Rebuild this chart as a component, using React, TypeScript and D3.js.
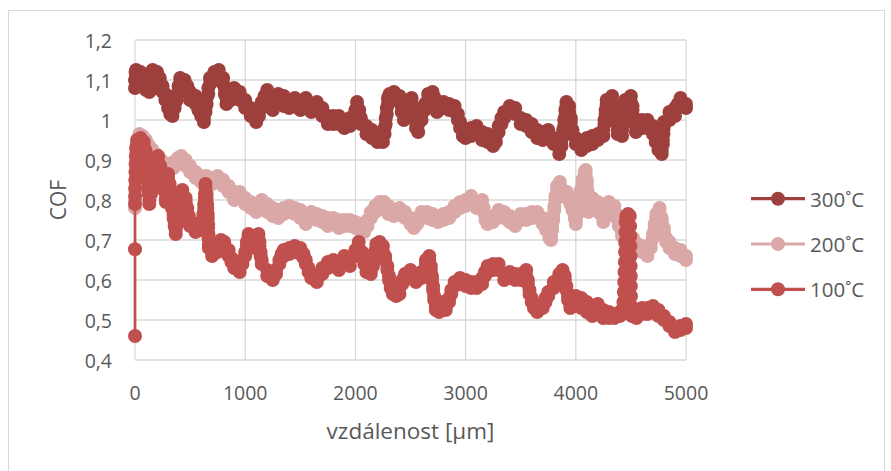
import React from "react";
import * as d3 from "d3";

// Coefficient of friction vs. sliding distance for three test temperatures.
// The signal is noisy, so each reading gives the lower and upper COF seen
// at that distance: [distance in µm, COF low, COF high].
type Reading = [number, number, number];

const cof300C: Reading[] = [
  [0, 1.08, 1.1], [5, 1.1, 1.12], [10, 1.11, 1.125], [25, 1.1, 1.115], [50, 1.105, 1.12], [75, 1.09, 1.11], [100, 1.075, 1.095],
  [130, 1.07, 1.09], [145, 1.09, 1.105], [160, 1.11, 1.125], [200, 1.1, 1.12], [225, 1.09, 1.105], [250, 1.07, 1.085], [275, 1.05, 1.065],
  [300, 1.03, 1.045], [320, 1.015, 1.03], [340, 1.01, 1.02], [360, 1.03, 1.04], [380, 1.05, 1.065], [395, 1.07, 1.085], [410, 1.09, 1.105],
  [450, 1.085, 1.1], [475, 1.07, 1.085], [500, 1.05, 1.07], [550, 1.04, 1.06], [575, 1.025, 1.04], [600, 1.01, 1.025], [625, 0.995, 1.005],
  [640, 1.02, 1.03], [650, 1.04, 1.055], [665, 1.065, 1.08], [680, 1.09, 1.105], [720, 1.1, 1.12], [760, 1.11, 1.125], [800, 1.09, 1.105],
  [815, 1.065, 1.08], [830, 1.04, 1.055], [870, 1.05, 1.07], [900, 1.065, 1.08], [950, 1.05, 1.07], [1000, 1.03, 1.05], [1050, 1.01, 1.03],
  [1100, 0.995, 1.01], [1125, 1.01, 1.025], [1150, 1.03, 1.045], [1175, 1.045, 1.06], [1200, 1.06, 1.075], [1225, 1.045, 1.06], [1250, 1.025, 1.045],
  [1275, 1.04, 1.055], [1300, 1.05, 1.065], [1350, 1.035, 1.06], [1400, 1.03, 1.05], [1450, 1.035, 1.055], [1500, 1.025, 1.045], [1550, 1.035, 1.055],
  [1600, 1.02, 1.04], [1650, 1.03, 1.045], [1700, 1.01, 1.03], [1750, 0.99, 1.01], [1800, 0.99, 1.01], [1850, 0.99, 1.01], [1900, 0.98, 1.0],
  [1950, 0.985, 1.005], [2000, 1.01, 1.025], [2015, 1.03, 1.045], [2035, 1.01, 1.025], [2050, 0.99, 1.005], [2100, 0.965, 0.985], [2150, 0.955, 0.975],
  [2200, 0.945, 0.965], [2250, 0.945, 0.965], [2265, 0.965, 0.98], [2275, 0.99, 1.005], [2285, 1.015, 1.03], [2295, 1.04, 1.055], [2310, 1.05, 1.065],
  [2350, 1.055, 1.07], [2400, 1.045, 1.06], [2420, 1.02, 1.035], [2440, 1.0, 1.015], [2470, 1.02, 1.035], [2510, 1.04, 1.055], [2530, 1.015, 1.03],
  [2550, 0.98, 0.995], [2570, 0.97, 0.99], [2600, 1.0, 1.015], [2630, 1.025, 1.04], [2660, 1.05, 1.065], [2700, 1.055, 1.07], [2720, 1.04, 1.055],
  [2740, 1.02, 1.035], [2800, 1.03, 1.045], [2850, 1.025, 1.04], [2900, 1.02, 1.035], [2930, 1.0, 1.015], [2950, 0.98, 0.995], [2975, 0.96, 0.975],
  [3000, 0.955, 0.97], [3050, 0.96, 0.98], [3100, 0.965, 0.985], [3150, 0.95, 0.97], [3200, 0.945, 0.965], [3250, 0.935, 0.95], [3275, 0.945, 0.96],
  [3300, 0.97, 0.985], [3325, 0.99, 1.005], [3350, 1.005, 1.02], [3400, 1.02, 1.035], [3450, 1.015, 1.03], [3500, 0.99, 1.005], [3550, 0.985, 1.0],
  [3600, 0.97, 0.99], [3650, 0.955, 0.975], [3700, 0.95, 0.97], [3750, 0.96, 0.975], [3800, 0.94, 0.955], [3850, 0.915, 0.93], [3870, 0.935, 0.95],
  [3885, 0.96, 0.975], [3895, 0.985, 1.0], [3905, 1.01, 1.025], [3915, 1.035, 1.045], [3940, 1.02, 1.035], [3955, 0.995, 1.005], [3970, 0.965, 0.975],
  [4000, 0.94, 0.955], [4050, 0.925, 0.94], [4100, 0.935, 0.955], [4150, 0.94, 0.96], [4200, 0.95, 0.965], [4250, 0.96, 0.975], [4260, 0.99, 1.0],
  [4270, 1.015, 1.025], [4280, 1.04, 1.05], [4330, 1.045, 1.06], [4345, 1.025, 1.035], [4360, 0.995, 1.005], [4380, 0.965, 0.975], [4420, 0.96, 0.975],
  [4430, 0.99, 1.0], [4440, 1.015, 1.025], [4450, 1.04, 1.05], [4500, 1.045, 1.06], [4515, 1.025, 1.035], [4530, 0.995, 1.005], [4545, 0.97, 0.985],
  [4600, 0.98, 1.0], [4650, 0.98, 1.0], [4700, 0.965, 0.985], [4725, 0.945, 0.955], [4750, 0.925, 0.935], [4780, 0.915, 0.925], [4790, 0.94, 0.95],
  [4795, 0.965, 0.975], [4800, 0.985, 0.995], [4850, 1.0, 1.02], [4900, 1.01, 1.03], [4925, 1.03, 1.04], [4950, 1.045, 1.055], [5000, 1.03, 1.04],
];

const cof200C: Reading[] = [
  [0, 0.78, 0.78], [0, 0.8, 0.8], [2, 0.825, 0.825], [4, 0.85, 0.85], [6, 0.875, 0.875], [8, 0.9, 0.9], [12, 0.925, 0.925], [20, 0.94, 0.95],
  [40, 0.95, 0.965], [70, 0.945, 0.96], [100, 0.935, 0.95], [130, 0.92, 0.935], [160, 0.91, 0.925], [190, 0.9, 0.915], [220, 0.89, 0.905],
  [260, 0.88, 0.895], [300, 0.875, 0.89], [350, 0.88, 0.895], [390, 0.89, 0.905], [420, 0.895, 0.91], [460, 0.885, 0.9], [500, 0.87, 0.885],
  [550, 0.855, 0.87], [600, 0.845, 0.86], [650, 0.845, 0.86], [700, 0.84, 0.855], [750, 0.845, 0.86], [800, 0.835, 0.85], [850, 0.82, 0.835],
  [900, 0.8, 0.82], [950, 0.805, 0.82], [1000, 0.79, 0.805], [1050, 0.78, 0.795], [1100, 0.77, 0.79], [1150, 0.785, 0.8], [1200, 0.77, 0.79],
  [1250, 0.76, 0.78], [1300, 0.755, 0.775], [1350, 0.765, 0.78], [1400, 0.77, 0.785], [1450, 0.765, 0.78], [1500, 0.755, 0.775], [1550, 0.74, 0.76],
  [1600, 0.755, 0.77], [1650, 0.75, 0.765], [1700, 0.745, 0.76], [1750, 0.735, 0.755], [1800, 0.74, 0.755], [1850, 0.73, 0.75], [1900, 0.735, 0.75],
  [1950, 0.735, 0.75], [2000, 0.73, 0.745], [2050, 0.72, 0.74], [2080, 0.72, 0.73], [2110, 0.735, 0.75], [2140, 0.755, 0.77], [2180, 0.77, 0.785],
  [2220, 0.78, 0.795], [2260, 0.78, 0.795], [2300, 0.765, 0.785], [2350, 0.76, 0.775], [2400, 0.765, 0.78], [2450, 0.755, 0.77], [2500, 0.74, 0.755],
  [2530, 0.73, 0.74], [2560, 0.74, 0.755], [2600, 0.755, 0.77], [2650, 0.755, 0.77], [2700, 0.75, 0.765], [2750, 0.745, 0.76], [2800, 0.75, 0.765],
  [2850, 0.755, 0.77], [2900, 0.77, 0.785], [2950, 0.78, 0.795], [3000, 0.785, 0.8], [3050, 0.795, 0.81], [3100, 0.78, 0.795], [3150, 0.785, 0.8],
  [3165, 0.77, 0.78], [3180, 0.75, 0.76], [3200, 0.74, 0.75], [3250, 0.745, 0.76], [3300, 0.76, 0.775], [3350, 0.755, 0.77], [3400, 0.745, 0.76],
  [3450, 0.735, 0.75], [3500, 0.75, 0.765], [3550, 0.75, 0.765], [3600, 0.755, 0.77], [3650, 0.755, 0.77], [3700, 0.74, 0.755], [3730, 0.725, 0.735],
  [3760, 0.705, 0.715], [3775, 0.7, 0.71], [3785, 0.725, 0.735], [3795, 0.75, 0.76], [3805, 0.775, 0.785], [3815, 0.8, 0.81], [3830, 0.825, 0.835],
  [3855, 0.835, 0.845], [3880, 0.815, 0.825], [3920, 0.805, 0.82], [3950, 0.79, 0.805], [3970, 0.775, 0.785], [3990, 0.755, 0.765], [4000, 0.74, 0.75],
  [4015, 0.765, 0.775], [4030, 0.79, 0.8], [4045, 0.815, 0.825], [4060, 0.84, 0.85], [4080, 0.86, 0.87], [4090, 0.865, 0.875], [4100, 0.84, 0.85],
  [4105, 0.815, 0.825], [4110, 0.79, 0.8], [4115, 0.77, 0.78], [4130, 0.78, 0.79], [4150, 0.79, 0.805], [4200, 0.78, 0.795], [4225, 0.765, 0.775],
  [4250, 0.745, 0.755], [4275, 0.765, 0.775], [4300, 0.78, 0.795], [4350, 0.77, 0.785], [4370, 0.755, 0.765], [4390, 0.735, 0.745], [4420, 0.71, 0.72],
  [4450, 0.69, 0.7], [4470, 0.675, 0.685], [4520, 0.69, 0.705], [4560, 0.675, 0.69], [4600, 0.67, 0.685], [4650, 0.66, 0.67], [4680, 0.68, 0.69],
  [4700, 0.705, 0.715], [4715, 0.73, 0.74], [4730, 0.755, 0.765], [4760, 0.77, 0.78], [4780, 0.745, 0.755], [4800, 0.72, 0.73], [4820, 0.695, 0.705],
  [4850, 0.68, 0.695], [4900, 0.665, 0.68], [4950, 0.66, 0.675], [5000, 0.65, 0.66],
];

const cof100C: Reading[] = [
  [0, 0.46, 0.46], [0, 0.677, 0.677], [0, 0.79, 0.79], [1, 0.81, 0.81], [2, 0.83, 0.83], [3, 0.85, 0.85], [4, 0.87, 0.87], [5, 0.89, 0.89],
  [7, 0.91, 0.91], [10, 0.93, 0.93], [20, 0.94, 0.95], [50, 0.94, 0.955], [80, 0.93, 0.945], [95, 0.915, 0.925], [105, 0.89, 0.9], [112, 0.865, 0.875],
  [120, 0.84, 0.85], [125, 0.815, 0.825], [130, 0.79, 0.8], [145, 0.815, 0.825], [160, 0.845, 0.855], [170, 0.87, 0.88], [180, 0.895, 0.905],
  [210, 0.895, 0.91], [230, 0.875, 0.885], [245, 0.85, 0.86], [260, 0.825, 0.835], [280, 0.795, 0.805], [290, 0.825, 0.835], [300, 0.855, 0.865],
  [315, 0.83, 0.84], [325, 0.805, 0.815], [335, 0.78, 0.79], [350, 0.755, 0.765], [360, 0.735, 0.745], [370, 0.715, 0.725], [385, 0.74, 0.75],
  [400, 0.765, 0.775], [415, 0.79, 0.8], [430, 0.815, 0.825], [460, 0.795, 0.805], [475, 0.77, 0.78], [490, 0.75, 0.76], [500, 0.735, 0.745],
  [550, 0.72, 0.74], [590, 0.725, 0.74], [620, 0.755, 0.765], [628, 0.78, 0.79], [634, 0.805, 0.815], [640, 0.83, 0.84], [650, 0.805, 0.815],
  [655, 0.78, 0.79], [660, 0.755, 0.765], [664, 0.73, 0.74], [667, 0.705, 0.715], [670, 0.68, 0.69], [700, 0.66, 0.675], [750, 0.67, 0.685],
  [780, 0.685, 0.7], [810, 0.68, 0.695], [850, 0.66, 0.675], [875, 0.645, 0.655], [900, 0.63, 0.645], [950, 0.62, 0.635], [975, 0.64, 0.65],
  [1000, 0.66, 0.67], [1015, 0.685, 0.695], [1030, 0.705, 0.715], [1060, 0.69, 0.705], [1090, 0.68, 0.695], [1120, 0.705, 0.715], [1130, 0.685, 0.695],
  [1140, 0.66, 0.67], [1150, 0.64, 0.65], [1200, 0.61, 0.625], [1250, 0.6, 0.61], [1280, 0.615, 0.625], [1310, 0.64, 0.65], [1330, 0.655, 0.665],
  [1350, 0.66, 0.675], [1400, 0.665, 0.68], [1450, 0.67, 0.685], [1500, 0.665, 0.68], [1530, 0.655, 0.665], [1550, 0.64, 0.65], [1575, 0.62, 0.63],
  [1600, 0.605, 0.615], [1650, 0.595, 0.605], [1700, 0.615, 0.63], [1750, 0.63, 0.645], [1800, 0.635, 0.65], [1850, 0.625, 0.64], [1900, 0.645, 0.66],
  [1950, 0.635, 0.65], [2000, 0.66, 0.675], [2030, 0.68, 0.695], [2060, 0.66, 0.67], [2080, 0.64, 0.65], [2100, 0.62, 0.635], [2140, 0.615, 0.625],
  [2160, 0.635, 0.645], [2175, 0.66, 0.67], [2190, 0.68, 0.69], [2220, 0.68, 0.695], [2250, 0.67, 0.685], [2270, 0.65, 0.66], [2290, 0.625, 0.635],
  [2305, 0.6, 0.61], [2320, 0.58, 0.59], [2340, 0.565, 0.575], [2370, 0.56, 0.57], [2400, 0.565, 0.58], [2425, 0.59, 0.6], [2450, 0.6, 0.615],
  [2500, 0.61, 0.625], [2550, 0.595, 0.61], [2600, 0.605, 0.62], [2640, 0.64, 0.65], [2670, 0.65, 0.66], [2685, 0.625, 0.635], [2695, 0.6, 0.61],
  [2705, 0.575, 0.585], [2715, 0.55, 0.56], [2730, 0.525, 0.535], [2760, 0.52, 0.53], [2790, 0.535, 0.545], [2820, 0.525, 0.535], [2850, 0.545, 0.555],
  [2870, 0.565, 0.575], [2900, 0.585, 0.595], [2950, 0.59, 0.605], [3000, 0.585, 0.6], [3050, 0.58, 0.595], [3100, 0.58, 0.595], [3150, 0.59, 0.605],
  [3175, 0.61, 0.62], [3200, 0.62, 0.635], [3250, 0.625, 0.64], [3300, 0.625, 0.64], [3350, 0.6, 0.615], [3400, 0.605, 0.62], [3450, 0.6, 0.615],
  [3500, 0.6, 0.615], [3550, 0.61, 0.625], [3565, 0.59, 0.6], [3580, 0.565, 0.575], [3600, 0.545, 0.555], [3620, 0.53, 0.54], [3650, 0.52, 0.53],
  [3700, 0.53, 0.54], [3725, 0.545, 0.555], [3750, 0.56, 0.57], [3800, 0.58, 0.595], [3850, 0.6, 0.615], [3880, 0.615, 0.625], [3900, 0.6, 0.61],
  [3915, 0.575, 0.585], [3930, 0.55, 0.56], [3950, 0.53, 0.54], [3980, 0.54, 0.55], [4000, 0.535, 0.56], [4050, 0.53, 0.555], [4100, 0.52, 0.545],
  [4150, 0.51, 0.53], [4200, 0.515, 0.54], [4250, 0.505, 0.525], [4300, 0.505, 0.52], [4350, 0.505, 0.515], [4400, 0.51, 0.52], [4420, 0.515, 0.525],
  [4432, 0.545, 0.545], [4436, 0.57, 0.57], [4439, 0.595, 0.595], [4442, 0.62, 0.62], [4445, 0.645, 0.645], [4447, 0.67, 0.67], [4449, 0.695, 0.695],
  [4451, 0.72, 0.72], [4453, 0.745, 0.745], [4458, 0.76, 0.76], [4475, 0.765, 0.765], [4490, 0.76, 0.76], [4493, 0.735, 0.735], [4495, 0.71, 0.71],
  [4496, 0.685, 0.685], [4497, 0.66, 0.66], [4498, 0.635, 0.635], [4499, 0.61, 0.61], [4500, 0.585, 0.585], [4501, 0.56, 0.56], [4503, 0.535, 0.535],
  [4510, 0.51, 0.52], [4550, 0.505, 0.515], [4600, 0.515, 0.53], [4650, 0.515, 0.53], [4700, 0.52, 0.535], [4750, 0.51, 0.525], [4800, 0.5, 0.51],
  [4850, 0.485, 0.495], [4900, 0.47, 0.48], [4950, 0.475, 0.485], [5000, 0.48, 0.49],
];

const seriesNames = ["300˚C", "200˚C", "100˚C"];
const seriesColors = ["#9D403D", "#DAA8A7", "#C0504D"];
const seriesData = [cof300C, cof200C, cof100C];

const xTicks = [0, 1000, 2000, 3000, 4000, 5000];
const yTicks = [0.4, 0.5, 0.6, 0.7, 0.8, 0.9, 1.0, 1.1, 1.2];
const yTickLabels = ["0,4", "0,5", "0,6", "0,7", "0,8", "0,9", "1", "1,1", "1,2"];

const xTitle = "vzdálenost [µm]";
const yTitle = "COF";

const W = 891;
const H = 471;
const plot = { left: 135, right: 686, top: 40, bottom: 360 };
const FONT = "'Open Sans', 'Liberation Sans', sans-serif";
const TEXT = "#595959";
const GRID = "#D9D9D9";

// Expand the low/high readings into the zig-zag sequence of measured points.
function toPoints(readings: Reading[]): [number, number][] {
  const pts: [number, number][] = [];
  readings.forEach(([d, lo, hi], i) => {
    if (lo === hi) pts.push([d, lo]);
    else if (i % 2 === 0) pts.push([d, lo], [d, hi]);
    else pts.push([d, hi], [d, lo]);
  });
  return pts;
}

export default function App() {
  const x = d3.scaleLinear().domain([0, 5000]).range([plot.left, plot.right]);
  const y = d3.scaleLinear().domain([0.4, 1.2]).range([plot.bottom, plot.top]);
  const line = d3
    .line<[number, number]>()
    .x((d) => x(d[0]))
    .y((d) => y(d[1]));

  const legendX0 = 751;
  const legendX1 = 805;
  const legendY = [198.7, 244, 289.3];

  return (
    <svg
      width={W}
      height={H}
      style={{ position: "fixed", left: 0, top: 0, background: "#fff" }}
      fontFamily={FONT}
    >
      <rect x={0} y={0} width={W} height={H} fill="#fff" />
      <rect x={8.5} y={10.5} width={876} height={470} fill="#fff" stroke={GRID} strokeWidth={1} />

      {/* grid */}
      {yTicks.map((t) => (
        <line key={"gy" + t} x1={plot.left} x2={plot.right} y1={y(t)} y2={y(t)} stroke={GRID} strokeWidth={1.3} />
      ))}
      {xTicks.map((t) => (
        <line key={"gx" + t} x1={x(t)} x2={x(t)} y1={plot.top} y2={plot.bottom} stroke={GRID} strokeWidth={1.3} />
      ))}

      {/* tick labels */}
      {yTicks.map((t, i) => (
        <text key={"ty" + t} x={112} y={y(t)} textAnchor="end" dominantBaseline="central" fontSize={19.5} fill={TEXT}>
          {yTickLabels[i]}
        </text>
      ))}
      {xTicks.map((t) => (
        <text key={"tx" + t} x={x(t)} y={392} textAnchor="middle" dominantBaseline="central" fontSize={19.5} fill={TEXT}>
          {t}
        </text>
      ))}

      {/* axis titles */}
      <text x={(plot.left + plot.right) / 2} y={430} textAnchor="middle" dominantBaseline="central" fontSize={22.5} fill={TEXT}>
        {xTitle}
      </text>
      <text
        transform={`translate(58, 200) rotate(-90)`}
        textAnchor="middle"
        dominantBaseline="central"
        fontSize={21}
        fill={TEXT}
      >
        {yTitle}
      </text>

      {/* series */}
      {seriesData.map((readings, si) => {
        const pts = toPoints(readings);
        return (
          <g key={"s" + si}>
            <path d={line(pts) ?? ""} fill="none" stroke={seriesColors[si]} strokeWidth={2.75} strokeLinejoin="round" />
            {pts.map((d, i) => (
              <circle key={i} cx={x(d[0])} cy={y(d[1])} r={7} fill={seriesColors[si]} />
            ))}
          </g>
        );
      })}

      {/* legend */}
      {seriesNames.map((name, i) => (
        <g key={"l" + i}>
          <line x1={legendX0} x2={legendX1} y1={legendY[i]} y2={legendY[i]} stroke={seriesColors[i]} strokeWidth={3.2} />
          <circle cx={(legendX0 + legendX1) / 2} cy={legendY[i]} r={7} fill={seriesColors[i]} />
          <text x={810} y={legendY[i]} dominantBaseline="central" fontSize={20.5} fill={TEXT}>
            {name}
          </text>
        </g>
      ))}
    </svg>
  );
}
